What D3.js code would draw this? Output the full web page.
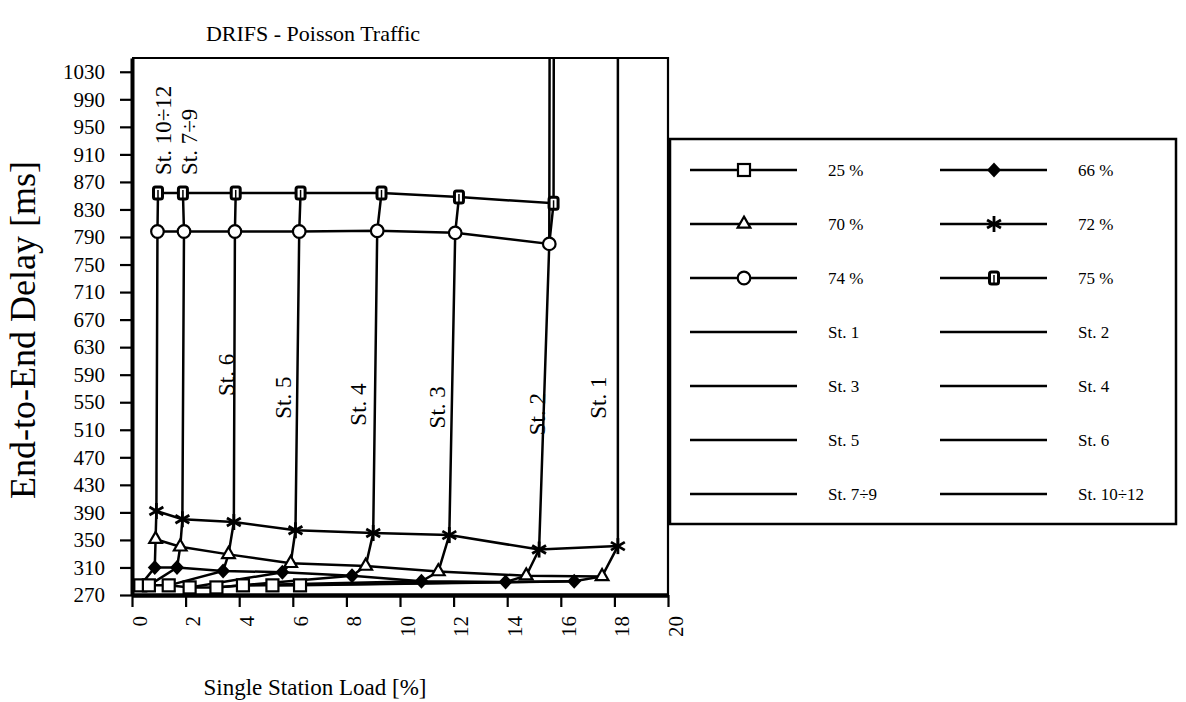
<!DOCTYPE html>
<html>
<head>
<meta charset="utf-8">
<script src="https://cdn.jsdelivr.net/npm/d3@7/dist/d3.min.js"></script>
<style>
  body { margin: 0; background: #fff; }
  svg { display: block; }
  text { font-family: "Liberation Serif", "Times New Roman", serif; fill: #000; }
</style>
</head>
<body>
<svg></svg>
<script>
        const svgWidth = 1186;
        const svgHeight = 702;

        // stations, ordered from the least loaded (left) to the most loaded (right)
        const stations = ["St. 10÷12", "St. 7÷9", "St. 6", "St. 5", "St. 4", "St. 3", "St. 2", "St. 1"];
        const loads = ["25 %", "66 %", "70 %", "72 %", "74 %", "75 %"];
        const markerTypes = ["square", "diamond", "triangle", "star", "circle", "arrow"];

        // single station load [%] per station, one array per total load
        const load25X = [0.31, 0.63, 1.37, 2.15, 3.15, 4.14, 5.24, 6.27];
        const load66X = [0.85, 1.68, 3.40, 5.61, 8.21, 10.8, 13.94, 16.5];
        const load70X = [0.88, 1.80, 3.60, 5.92, 8.72, 11.43, 14.71, 17.54];
        const load72X = [0.91, 1.88, 3.80, 6.10, 9.00, 11.84, 15.19, 18.13];
        const load74X = [0.95, 1.94, 3.84, 6.24, 9.15, 12.06, 15.57, 18.15];
        const load75X = [0.97, 1.90, 3.87, 6.29, 9.31, 12.2, 15.73, 18.2];

        // end-to-end delay [ms]; St. 1 at 74 % and 75 % is far above the plotted range
        const load25Y = [284, 284, 284, 281, 281, 284, 284, 284];
        const load66Y = [310, 310, 305, 303, 298, 290, 289, 290];
        const load70Y = [351, 340, 329, 316, 312, 304, 298, 297];
        const load72Y = [392, 380, 376, 364, 360, 357, 336, 341];
        const load74Y = [798, 798, 798, 798, 799, 796, 780, 60000];
        const load75Y = [854, 854, 854, 854, 854, 848, 839, 70000];

        const xTicks = [0, 2, 4, 6, 8, 10, 12, 14, 16, 18, 20];
        const yTicks = d3.range(270, 1031, 40);

        // where the station names are written on the chart (start of the rotated text)
        const labelX = [1.45, 2.43, 3.80, 5.92, 8.72, 11.67, 15.4, 17.67];
        const labelY = [880, 880, 559, 526, 516, 512, 502, 526];

        const allX = [load25X, load66X, load70X, load72X, load74X, load75X];
        const allY = [load25Y, load66Y, load70Y, load72Y, load74Y, load75Y];

        const series = loads.map((name, i) => ({
            name: name,
            marker: markerTypes[i],
            points: allX[i].map((x, j) => ({ x: x, y: allY[i][j] }))
        }));

        const stationLines = stations.map((name, j) => ({
            name: name,
            points: allX.map((xs, i) => ({ x: xs[j], y: allY[i][j] }))
        }));

        const svg = d3.select("svg")
            .attr("width", svgWidth)
            .attr("height", svgHeight);

        const x = d3.scaleLinear().domain([0, 20]).range([132, 668]);
        const y = d3.scaleLinear().domain([270, 1050]).range([595, 58]);

        const line = d3.line()
            .x(d => x(d.x))
            .y(d => y(d.y));

        function drawMarker(g, type) {
            if (type === "square") {
                g.append("rect").attr("x", -6).attr("y", -6).attr("width", 12).attr("height", 12)
                    .attr("fill", "#fff").attr("stroke", "#000").attr("stroke-width", 2.2);
            } else if (type === "diamond") {
                g.append("path").attr("d", "M0,-7.5L7,0L0,7.5L-7,0Z").attr("fill", "#000");
            } else if (type === "triangle") {
                g.append("path").attr("d", d3.symbol().type(d3.symbolTriangle).size(70)())
                    .attr("fill", "#fff").attr("stroke", "#000").attr("stroke-width", 2.2);
            } else if (type === "circle") {
                g.append("circle").attr("r", 6.3)
                    .attr("fill", "#fff").attr("stroke", "#000").attr("stroke-width", 2.2);
            } else if (type === "star") {
                const r = 8;
                [90, 30, 150].forEach(a => {
                    const c = Math.cos(a * Math.PI / 180) * r, s = Math.sin(a * Math.PI / 180) * r;
                    g.append("line").attr("x1", -c).attr("y1", -s).attr("x2", c).attr("y2", s)
                        .attr("stroke", "#000").attr("stroke-width", 2.8);
                });
            } else if (type === "arrow") {
                g.append("rect").attr("x", -4.5).attr("y", -6).attr("width", 9).attr("height", 12).attr("rx", 2)
                    .attr("fill", "#fff").attr("stroke", "#000").attr("stroke-width", 3);
                g.append("line").attr("x1", 0).attr("y1", -3).attr("x2", 0).attr("y2", 5)
                    .attr("stroke", "#000").attr("stroke-width", 1.5);
            }
        }

        svg.append("defs").append("clipPath").attr("id", "plot-clip")
            .append("rect")
            .attr("x", x(0)).attr("y", y(1050))
            .attr("width", x(20) - x(0)).attr("height", y(270) - y(1050));

        // frame top and right
        svg.append("path")
            .attr("d", `M${x(0)},${y(1050)}H${x(20)}V${y(270)}`)
            .attr("fill", "none").attr("stroke", "#000").attr("stroke-width", 2.2);

        const plot = svg.append("g").attr("clip-path", "url(#plot-clip)");

        // station labels
        plot.selectAll(".st-label")
            .data(stations)
            .enter().append("text")
            .attr("class", "st-label")
            .attr("transform", (d, i) => `translate(${x(labelX[i])},${y(labelY[i])}) rotate(-90)`)
            .attr("font-size", 23)
            .text(d => d);

        plot.selectAll(".station-line")
            .data(stationLines)
            .enter().append("path")
            .attr("class", "station-line")
            .attr("d", d => line(d.points))
            .attr("fill", "none")
            .attr("stroke", "#000")
            .attr("stroke-width", 2.5);

        plot.selectAll(".load-line")
            .data(series)
            .enter().append("path")
            .attr("class", "load-line")
            .attr("d", d => line(d.points))
            .attr("fill", "none")
            .attr("stroke", "#000")
            .attr("stroke-width", 2.5);

        series.forEach(s => {
            plot.selectAll(null)
                .data(s.points.filter(p => p.y <= 1050))
                .enter().append("g")
                .attr("transform", p => `translate(${x(p.x)},${y(p.y)})`)
                .each(function () { drawMarker(d3.select(this), s.marker); });
        });

        // axes
        const yAxis = svg.append("g")
            .attr("transform", `translate(${x(0)},0)`)
            .call(d3.axisLeft(y).tickValues(yTicks).tickFormat(d3.format("d"))
                .tickSize(12).tickSizeOuter(0).tickPadding(15));
        yAxis.select(".domain").attr("stroke-width", 4);
        yAxis.selectAll(".tick line").attr("stroke-width", 2.2);
        yAxis.selectAll(".tick text")
            .attr("font-family", "Liberation Serif")
            .attr("font-size", 21);

        const xAxis = svg.append("g")
            .attr("transform", `translate(0,${y(270)})`)
            .call(d3.axisBottom(x).tickValues(xTicks).tickFormat(d3.format("d"))
                .tickSize(12).tickSizeOuter(0));
        xAxis.select(".domain").attr("stroke-width", 4.5);
        xAxis.selectAll(".tick line").attr("stroke-width", 2.2);
        xAxis.selectAll(".tick text")
            .attr("font-family", "Liberation Serif")
            .attr("font-size", 21)
            .attr("transform", "rotate(-90)")
            .attr("text-anchor", "end")
            .attr("x", -21)
            .attr("y", 7)
            .attr("dy", "0.35em");

        svg.append("text")
            .attr("x", 313).attr("y", 41)
            .attr("text-anchor", "middle")
            .attr("font-size", 22)
            .text("DRIFS - Poisson Traffic");

        svg.append("text")
            .attr("x", 315).attr("y", 695)
            .attr("text-anchor", "middle")
            .attr("font-size", 23)
            .text("Single Station Load [%]");

        svg.append("text")
            .attr("transform", "translate(35,330) rotate(-90)")
            .attr("text-anchor", "middle")
            .attr("font-size", 36)
            .text("End-to-End Delay [ms]");

        // legend
        const legendItems = series.map(s => ({ name: s.name, marker: s.marker }))
            .concat(stationLines.slice().reverse().map(s => ({ name: s.name, marker: null })));

        const legend = svg.append("g");
        legend.append("rect")
            .attr("x", 670).attr("y", 139)
            .attr("width", 506).attr("height", 385)
            .attr("fill", "#fff").attr("stroke", "#000").attr("stroke-width", 2.5);

        const item = legend.selectAll(".item")
            .data(legendItems)
            .enter().append("g")
            .attr("class", "item")
            .attr("transform", (d, i) => `translate(${i % 2 === 0 ? 690 : 940},${170 + Math.floor(i / 2) * 54})`);

        item.append("line")
            .attr("x1", 0).attr("x2", 107)
            .attr("stroke", "#000").attr("stroke-width", 2.5);

        item.each(function (d) {
            if (d.marker) {
                const g = d3.select(this).append("g").attr("transform", "translate(54,0)");
                drawMarker(g, d.marker);
            }
        });

        item.append("text")
            .attr("x", 138).attr("y", 0)
            .attr("dy", "0.35em")
            .attr("font-size", 17)
            .text(d => d.name);
</script>
</body>
</html>
